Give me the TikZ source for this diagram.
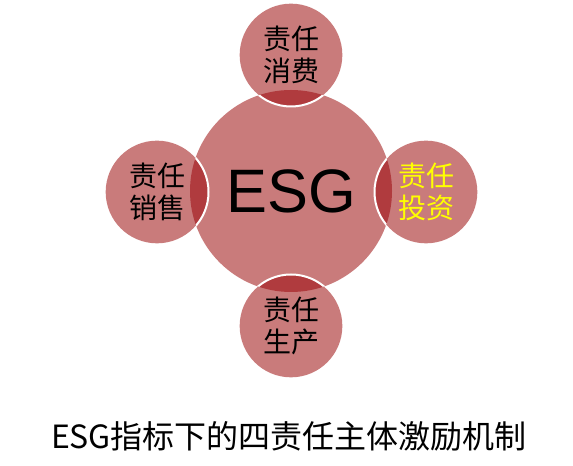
\documentclass[tikz,border=0pt]{standalone}
\usepackage{fontspec}
\setmainfont{Liberation Sans}
\newfontfamily\cjk{Noto Sans CJK SC}
\usetikzlibrary{positioning}
\definecolor{esgred}{HTML}{C97B7B}
\definecolor{esgdark}{HTML}{B03B3E}
\definecolor{esgyellow}{HTML}{FFFF00}

\begin{document}
\begin{tikzpicture}[x=0.75pt,y=0.75pt,
    hub/.style={circle,fill=esgred,minimum size=151.5pt,inner sep=0pt,font=\fontsize{46}{50}\selectfont},
    sat/.style={circle,fill=esgred,minimum size=77pt,inner sep=0pt,align=center,
                font=\cjk\fontsize{21}{24}\selectfont}]
    \useasboundingbox (0,0) rectangle (573,466);

    \node[hub] (esg) at (291,275) {ESG};
    \node[sat] (consume) at (291,411) {责任\\消费};
    \node[sat] (sell) at (157,274) {责任\\销售};
    \node[sat,text=esgyellow] (invest) at (426,274) {责任\\投资};
    \node[sat] (produce) at (291,140) {责任\\生产};

    % darker overlap with the hub, white rims of the small circles
    \begin{scope}
        \clip (esg.center) circle (101);
        \foreach \s in {consume,sell,invest,produce}
            \fill[esgdark] (\s.center) circle (51.5);
        \foreach \s in {consume,sell,invest,produce}
            \draw[white,line width=1.5pt] (\s.center) circle (51.5);
    \end{scope}

    \node[font=\cjk\fontsize{24}{28}\selectfont] (title) at (289,30) {ESG指标下的四责任主体激励机制};
\end{tikzpicture}
\end{document}
